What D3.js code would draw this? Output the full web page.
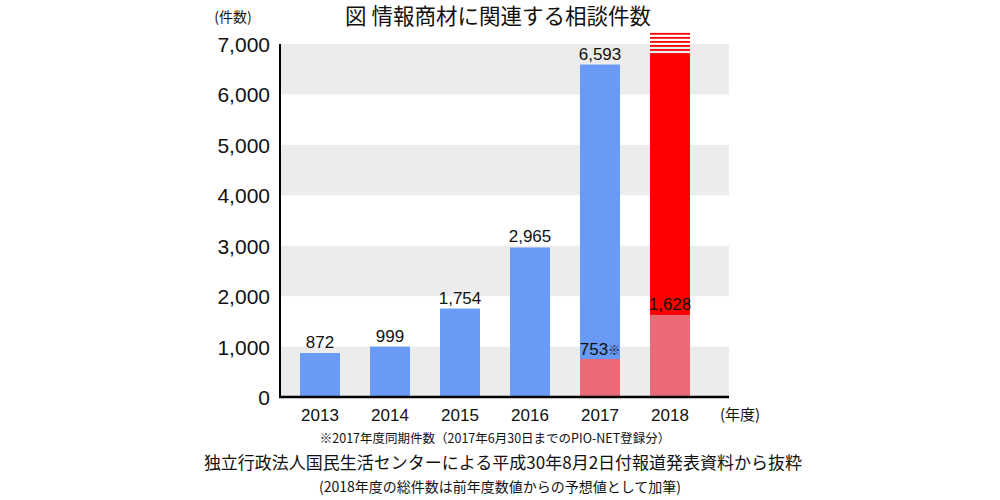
<!DOCTYPE html>
<html><head><meta charset="utf-8">
<script src="https://cdn.jsdelivr.net/npm/d3@7/dist/d3.min.js"></script>
<style>body{margin:0;background:#fff}text{font-family:"Noto Sans CJK JP","Noto Sans",sans-serif;fill:#111}
text.num{font-family:"Liberation Sans",Arial,sans-serif}</style>
</head><body><svg id="c" width="1000" height="500"></svg>
<script>
const years = ["2013","2014","2015","2016","2017","2018"];
const totals = [872, 999, 1754, 2965, 6593, null];
const samePeriod = [null, null, null, null, 753, 1628];
const estimate2018 = 6820;      // red estimated total (solid part)
const estimateBreakTop = 7220;  // top of the striped "over-range" part
const yTicks = [0,1000,2000,3000,4000,5000,6000,7000];
const labels = ["872","999","1,754","2,965","6,593",""];
const fmt = d3.format(",");

const svg = d3.select("#c");
const x = d3.scaleBand().domain(years).range([285,705]).paddingInner(30/70).paddingOuter(15/70);
const y = d3.scaleLinear().domain([0,7000]).range([397,44]);
const left = 281, right = 729;

yTicks.slice(0,-1).forEach((t,i)=>{
  if (i%2===0) svg.append("rect").attr("x",left).attr("width",right-left)
    .attr("y",y(yTicks[i+1])).attr("height",y(yTicks[i])-y(yTicks[i+1])).attr("fill","#ececec");
});

const blue="#699bf6", pink="#eb6a78", red="#ff0000";
years.forEach((yr,i)=>{
  const bx=x(yr), bw=x.bandwidth();
  if (totals[i]!=null){
    svg.append("rect").attr("x",bx).attr("width",bw).attr("y",y(totals[i])).attr("height",y(0)-y(totals[i])).attr("fill",blue);
  }
  if (yr==="2018"){
    svg.append("rect").attr("x",bx).attr("width",bw).attr("y",y(estimate2018)).attr("height",y(0)-y(estimate2018)).attr("fill",red);
    const top=y(estimateBreakTop), bot=y(estimate2018), n=5, per=(bot-top)/n;
    for(let k=0;k<n;k++){
      svg.append("rect").attr("x",bx).attr("width",bw).attr("y",top+k*per).attr("height",per*0.45).attr("fill",red);
    }
  }
  if (samePeriod[i]!=null){
    svg.append("rect").attr("x",bx).attr("width",bw).attr("y",y(samePeriod[i])).attr("height",y(0)-y(samePeriod[i])).attr("fill",pink);
  }
  if (labels[i]) svg.append("text").attr("class","num").attr("x",bx+bw/2).attr("y",y(totals[i])-5).attr("text-anchor","middle").attr("font-size",17).text(labels[i]);
});
{
  const i=4, bx=x(years[i]);
  const t=svg.append("text").attr("class","num").attr("x",bx+x.bandwidth()/2).attr("y",y(samePeriod[i])-4).attr("text-anchor","middle").attr("font-size",17);
  t.append("tspan").text(fmt(samePeriod[i]));
  t.append("tspan").attr("font-size",12).style("font-family","Noto Sans CJK JP").text("※");
  const j=5;
  svg.append("text").attr("class","num").attr("x",x(years[j])+x.bandwidth()/2).attr("y",y(samePeriod[j])-5).attr("text-anchor","middle").attr("font-size",17).text(fmt(samePeriod[j]));
}

svg.append("line").attr("x1",left-1).attr("x2",left-1).attr("y1",y(7000)).attr("y2",y(0)+1).attr("stroke","#000").attr("stroke-width",2);
svg.append("line").attr("x1",left-2).attr("x2",right).attr("y1",y(0)).attr("y2",y(0)).attr("stroke","#000").attr("stroke-width",2.5);

svg.selectAll(".yt").data(yTicks).join("text").attr("class","num").attr("x",270).attr("y",d=>y(d)+8).attr("text-anchor","end").attr("font-size",21).text(d=>fmt(d));
svg.selectAll(".xt").data(years).join("text").attr("class","num").attr("x",d=>x(d)+x.bandwidth()/2).attr("y",421).attr("text-anchor","middle").attr("font-size",17).text(d=>d);
svg.append("text").attr("x",740).attr("y",420).attr("text-anchor","middle").attr("font-size",15).text("(年度)");

svg.append("text").attr("x",233).attr("y",22).attr("text-anchor","middle").attr("font-size",14).text("(件数)");
svg.append("text").attr("x",498).attr("y",24).attr("text-anchor","middle").attr("font-size",21.5).text("図 情報商材に関連する相談件数");
svg.append("text").attr("x",495).attr("y",443).attr("text-anchor","middle").attr("font-size",12.5).text("※2017年度同期件数（2017年6月30日までのPIO-NET登録分）");
svg.append("text").attr("x",503).attr("y",469).attr("text-anchor","middle").attr("font-size",17).text("独立行政法人国民生活センターによる平成30年8月2日付報道発表資料から抜粋");
svg.append("text").attr("x",500).attr("y",492).attr("text-anchor","middle").attr("font-size",14).text("(2018年度の総件数は前年度数値からの予想値として加筆)");
</script></body></html>
